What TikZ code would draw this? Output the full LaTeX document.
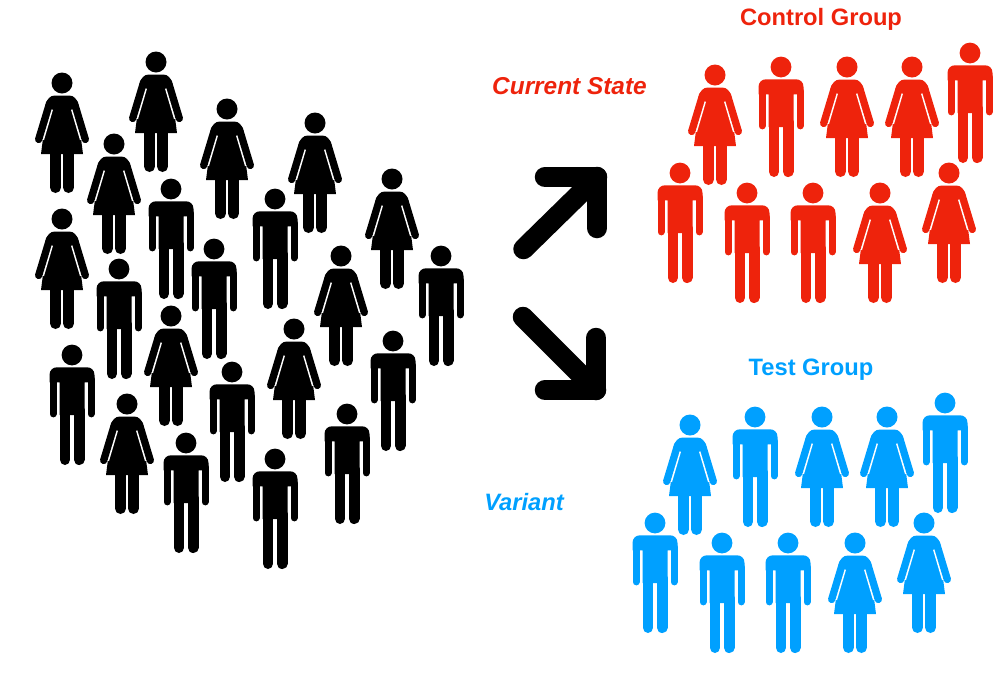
\documentclass[tikz,border=0pt]{standalone}
\usepackage{fontspec}
\setmainfont{Liberation Sans}
\definecolor{redc}{HTML}{EE230C}
\definecolor{bluec}{HTML}{00A0FF}
\tikzset{
  man/.pic={
    \fill[pic actions] (0,0) circle (10.4);
    \fill[pic actions] (-22.5,27.3) -- (-22.5,20) .. controls (-22.5,15) and (-19,12.3) .. (-15,12.3)
      -- (15,12.3) .. controls (19,12.3) and (22.5,15) .. (22.5,20)
      -- (22.5,27.3) -- (12.5,27.3) -- (12.5,60) -- (-12.5,60) -- (-12.5,27.3) -- cycle;
    \draw[pic actions,line width=7pt,line cap=round] (-19,24) -- (-19,58.9);
    \draw[pic actions,line width=7pt,line cap=round] (19,24) -- (19,58.9);
    \draw[pic actions,line width=10.8pt,line cap=round] (-7.1,55) -- (-7.1,104.6);
    \draw[pic actions,line width=10.8pt,line cap=round] (7.1,55) -- (7.1,104.6);
  },
  woman/.pic={
    \fill[pic actions] (0,0) circle (10.5);
    \fill[pic actions] (-21,71) -- (-19.2,57) -- (-10,24) -- (-16.5,22) .. controls (-15,16) and (-12,12.5) .. (-7,12.5)
      -- (7,12.5) .. controls (12,12.5) and (15,16) .. (16.5,22) -- (10,24) -- (19.2,57) -- (21,71) -- cycle;
    \draw[pic actions,line width=7.4pt,line cap=round] (-12.3,20) -- (-23.3,56.4);
    \draw[pic actions,line width=7.4pt,line cap=round] (12.3,20) -- (23.3,56.4);
    \draw[pic actions,line width=11pt,line cap=round] (-6.5,68) -- (-6.5,104.5);
    \draw[pic actions,line width=11pt,line cap=round] (6.5,68) -- (6.5,104.5);
    \draw[white,line width=1.4pt] (-9.7,26.6) -- (-18.7,57);
    \draw[white,line width=1.4pt] (9.7,26.6) -- (18.7,57);
  },
  bigarrow/.style={line width=20.5pt,line cap=round,line join=round},
  grouplabel/.style={font=\bfseries\fontsize{23.7}{26}\selectfont,inner sep=0pt,anchor=center},
  statelabel/.style={font=\bfseries\itshape\fontsize{23.7}{26}\selectfont,inner sep=0pt,anchor=center}
}
\begin{document}
\begin{tikzpicture}[x=1pt,y=-1pt]
\useasboundingbox (0,0) rectangle (1003,673);
\foreach \x/\y in {62/83,156/62,227/109,315/123,114/144,392/179,62/219,341/256,171/316,294/329,127/404}
  \pic[black] at (\x,\y) {woman};
\foreach \x/\y in {171/189,275/199,214/249,441/256,119/269,72/355,393/341,232/372,347/414,186/443,275/459}
  \pic[black] at (\x,\y) {man};
\foreach \x/\y in {715/75,847/67,912/67,880/193,949/173}
  \pic[redc] at (\x,\y) {woman};
\foreach \x/\y in {781/67,970/53,680/173,747/193,813/193}
  \pic[redc] at (\x,\y) {man};
\foreach \x/\y in {690/425,822/417,887/417,855/543,924/523}
  \pic[bluec] at (\x,\y) {woman};
\foreach \x/\y in {755/417,945/403,655/523,722/543,788/543}
  \pic[bluec] at (\x,\y) {man};
\draw[bigarrow] (523.5,249) -- (597,177);
\draw[bigarrow] (545,177) -- (597,177) -- (597,228);
\draw[bigarrow] (523,317) -- (596,390);
\draw[bigarrow] (596,338) -- (596,390) -- (545,390);
\node[grouplabel,text=redc] (control) at (821,19) {Control Group};
\node[statelabel,text=redc,font=\bfseries\itshape\fontsize{24.4}{26}\selectfont] (current) at (569.5,86) {Current State};
\node[grouplabel,text=bluec] (test) at (811,369.5) {Test Group};
\node[statelabel,text=bluec] (variant) at (524,502) {Variant};
\end{tikzpicture}
\end{document}
